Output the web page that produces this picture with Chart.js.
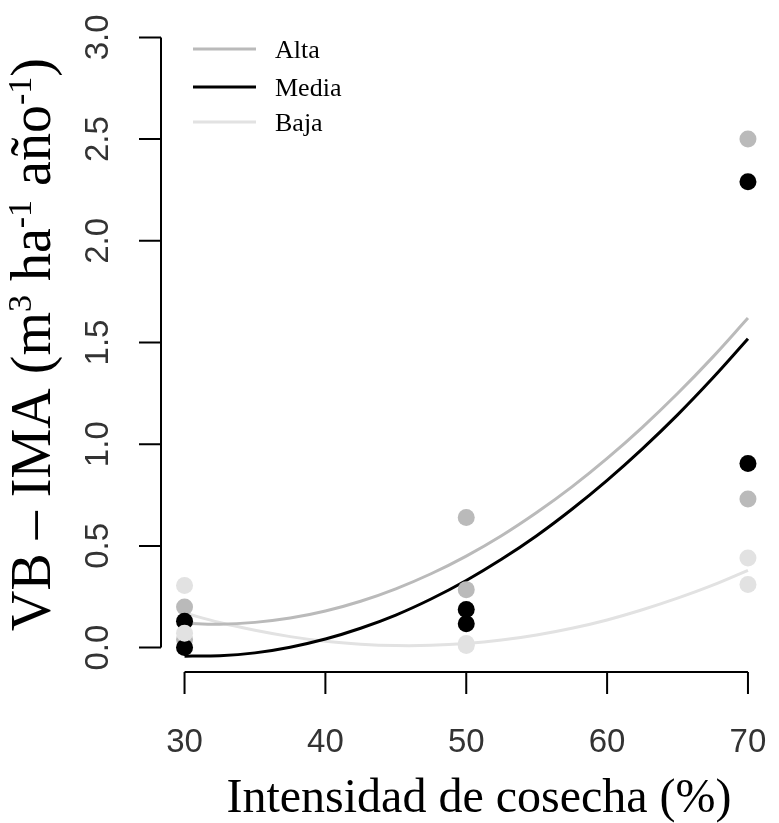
<!DOCTYPE html>
<html>
<head>
<meta charset="utf-8">
<script src="https://cdn.jsdelivr.net/npm/chart.js@4"></script>
<style>
  html, body { margin: 0; padding: 0; background: #fff; }
  #chart { display: block; }
</style>
</head>
<body>
<canvas id="chart" width="779" height="823"></canvas>
<script>
// fitted curves, read at every 2.5 % of harvest intensity
const curveX = [30, 32.5, 35, 37.5, 40, 42.5, 45, 47.5, 50, 52.5, 55, 57.5, 60, 62.5, 65, 67.5, 70];
const altaCurve = [0.12, 0.115, 0.124, 0.145, 0.18, 0.228, 0.289, 0.363, 0.45, 0.55, 0.664, 0.79, 0.93, 1.083, 1.249, 1.428, 1.62];
const mediaCurve = [-0.042, -0.04, -0.026, 0.002, 0.042, 0.095, 0.16, 0.239, 0.33, 0.434, 0.55, 0.68, 0.822, 0.977, 1.144, 1.325, 1.518];
const bajaCurve = [0.17, 0.123, 0.085, 0.054, 0.031, 0.017, 0.01, 0.011, 0.02, 0.037, 0.062, 0.095, 0.136, 0.186, 0.243, 0.307, 0.38];

// observed values per intensity
const obsX = [30, 30, 50, 50, 70, 70];
const altaObs = [0.20, 0.04, 0.64, 0.285, 2.50, 0.73];
const mediaObs = [0.13, 0.0, 0.187, 0.117, 2.29, 0.905];
const bajaObs = [0.305, 0.07, 0.02, 0.01, 0.44, 0.31];

const xTicks = [30, 40, 50, 60, 70];
const yTicks = [0, 0.5, 1, 1.5, 2, 2.5, 3];
const groups = ["Alta", "Media", "Baja"];

const colAlta = "#bababa";
const colMedia = "#000000";
const colBaja = "#e2e2e2";

const pts = (xs, ys) => xs.map((x, i) => ({ x: x, y: ys[i] }));

const curve = (label, ys, color) => ({
  type: "line",
  label: label,
  data: pts(curveX, ys),
  borderColor: color,
  borderWidth: 3,
  pointRadius: 0,
  tension: 0.4,
  fill: false,
  order: 10,
});

const dots = (label, ys, color, order) => ({
  type: "scatter",
  label: label,
  data: pts(obsX, ys),
  backgroundColor: color,
  borderColor: color,
  borderWidth: 0,
  pointRadius: 8.5,
  order: order,
});

// R-style detached axes, titles and legend
const rAxes = {
  id: "rAxes",
  afterDraw(chart) {
    const ctx = chart.ctx;
    const xs = chart.scales.x;
    const ys = chart.scales.y;
    const area = chart.chartArea;
    ctx.save();
    ctx.strokeStyle = "#000";
    ctx.lineWidth = 2;

    // y axis
    const yx = area.left - 1;
    ctx.beginPath();
    ctx.moveTo(yx, ys.getPixelForValue(yTicks[0]));
    ctx.lineTo(yx, ys.getPixelForValue(yTicks[yTicks.length - 1]));
    yTicks.forEach((v) => {
      const py = ys.getPixelForValue(v);
      ctx.moveTo(yx, py);
      ctx.lineTo(yx - 22, py);
    });
    ctx.stroke();

    // x axis
    const xy = area.bottom;
    ctx.beginPath();
    ctx.moveTo(xs.getPixelForValue(xTicks[0]), xy);
    ctx.lineTo(xs.getPixelForValue(xTicks[xTicks.length - 1]), xy);
    xTicks.forEach((v) => {
      const px = xs.getPixelForValue(v);
      ctx.moveTo(px, xy);
      ctx.lineTo(px, xy + 22);
    });
    ctx.stroke();

    // tick labels
    ctx.fillStyle = "#333";
    ctx.font = "33px 'Liberation Sans', Arial, sans-serif";
    ctx.textAlign = "center";
    ctx.textBaseline = "alphabetic";
    xTicks.forEach((v) => {
      ctx.fillText(String(v), xs.getPixelForValue(v), 752);
    });
    yTicks.forEach((v) => {
      ctx.save();
      ctx.translate(108, ys.getPixelForValue(v));
      ctx.rotate(-Math.PI / 2);
      ctx.fillText(v.toFixed(1), 0, 0);
      ctx.restore();
    });

    // x title
    ctx.fillStyle = "#000";
    ctx.font = "48px 'Liberation Serif', 'Times New Roman', serif";
    ctx.fillText("Intensidad de cosecha (%)", 479, 812);

    // y title with superscripts
    const big = "56px 'Liberation Serif', 'Times New Roman', serif";
    const small = "34px 'Liberation Serif', 'Times New Roman', serif";
    const parts = [
      ["VB \u2013 IMA (m", false],
      ["3", true],
      [" ha", false],
      ["-1", true],
      [" a\u00f1o", false],
      ["-1", true],
      [")", false],
    ];
    let total = 0;
    parts.forEach(([t, sup]) => {
      ctx.font = sup ? small : big;
      total += ctx.measureText(t).width;
    });
    ctx.save();
    ctx.translate(50, (area.top + area.bottom) / 2 + 2);
    ctx.rotate(-Math.PI / 2);
    ctx.textAlign = "left";
    let cx = -total / 2;
    parts.forEach(([t, sup]) => {
      ctx.font = sup ? small : big;
      ctx.fillText(t, cx, sup ? -19 : 0);
      cx += ctx.measureText(t).width;
    });
    ctx.restore();

    // legend
    const legCols = [colAlta, colMedia, colBaja];
    const legY = [49, 87, 122];
    ctx.font = "26px 'Liberation Serif', 'Times New Roman', serif";
    ctx.textAlign = "left";
    groups.forEach((g, i) => {
      ctx.strokeStyle = legCols[i];
      ctx.lineWidth = 3;
      ctx.beginPath();
      ctx.moveTo(193, legY[i]);
      ctx.lineTo(256, legY[i]);
      ctx.stroke();
      ctx.fillStyle = "#000";
      ctx.fillText(g, 275, legY[i] + 9);
    });
    ctx.restore();
  },
};

new Chart(document.getElementById("chart").getContext("2d"), {
  data: {
    datasets: [
      curve("Alta", altaCurve, colAlta),
      curve("Media", mediaCurve, colMedia),
      curve("Baja", bajaCurve, colBaja),
      dots("Alta obs", altaObs, colAlta, 3),
      dots("Media obs", mediaObs, colMedia, 2),
      dots("Baja obs", bajaObs, colBaja, 1),
    ],
  },
  options: {
    responsive: false,
    animation: false,
    layout: { padding: { left: 162, right: 0, top: 13, bottom: 151 } },
    scales: {
      x: { type: "linear", min: 28.4, max: 71.6, display: false },
      y: { type: "linear", min: -0.12, max: 3.12, display: false },
    },
    plugins: {
      legend: { display: false },
      tooltip: { enabled: false },
    },
  },
  plugins: [rAxes],
});
</script>
</body>
</html>
